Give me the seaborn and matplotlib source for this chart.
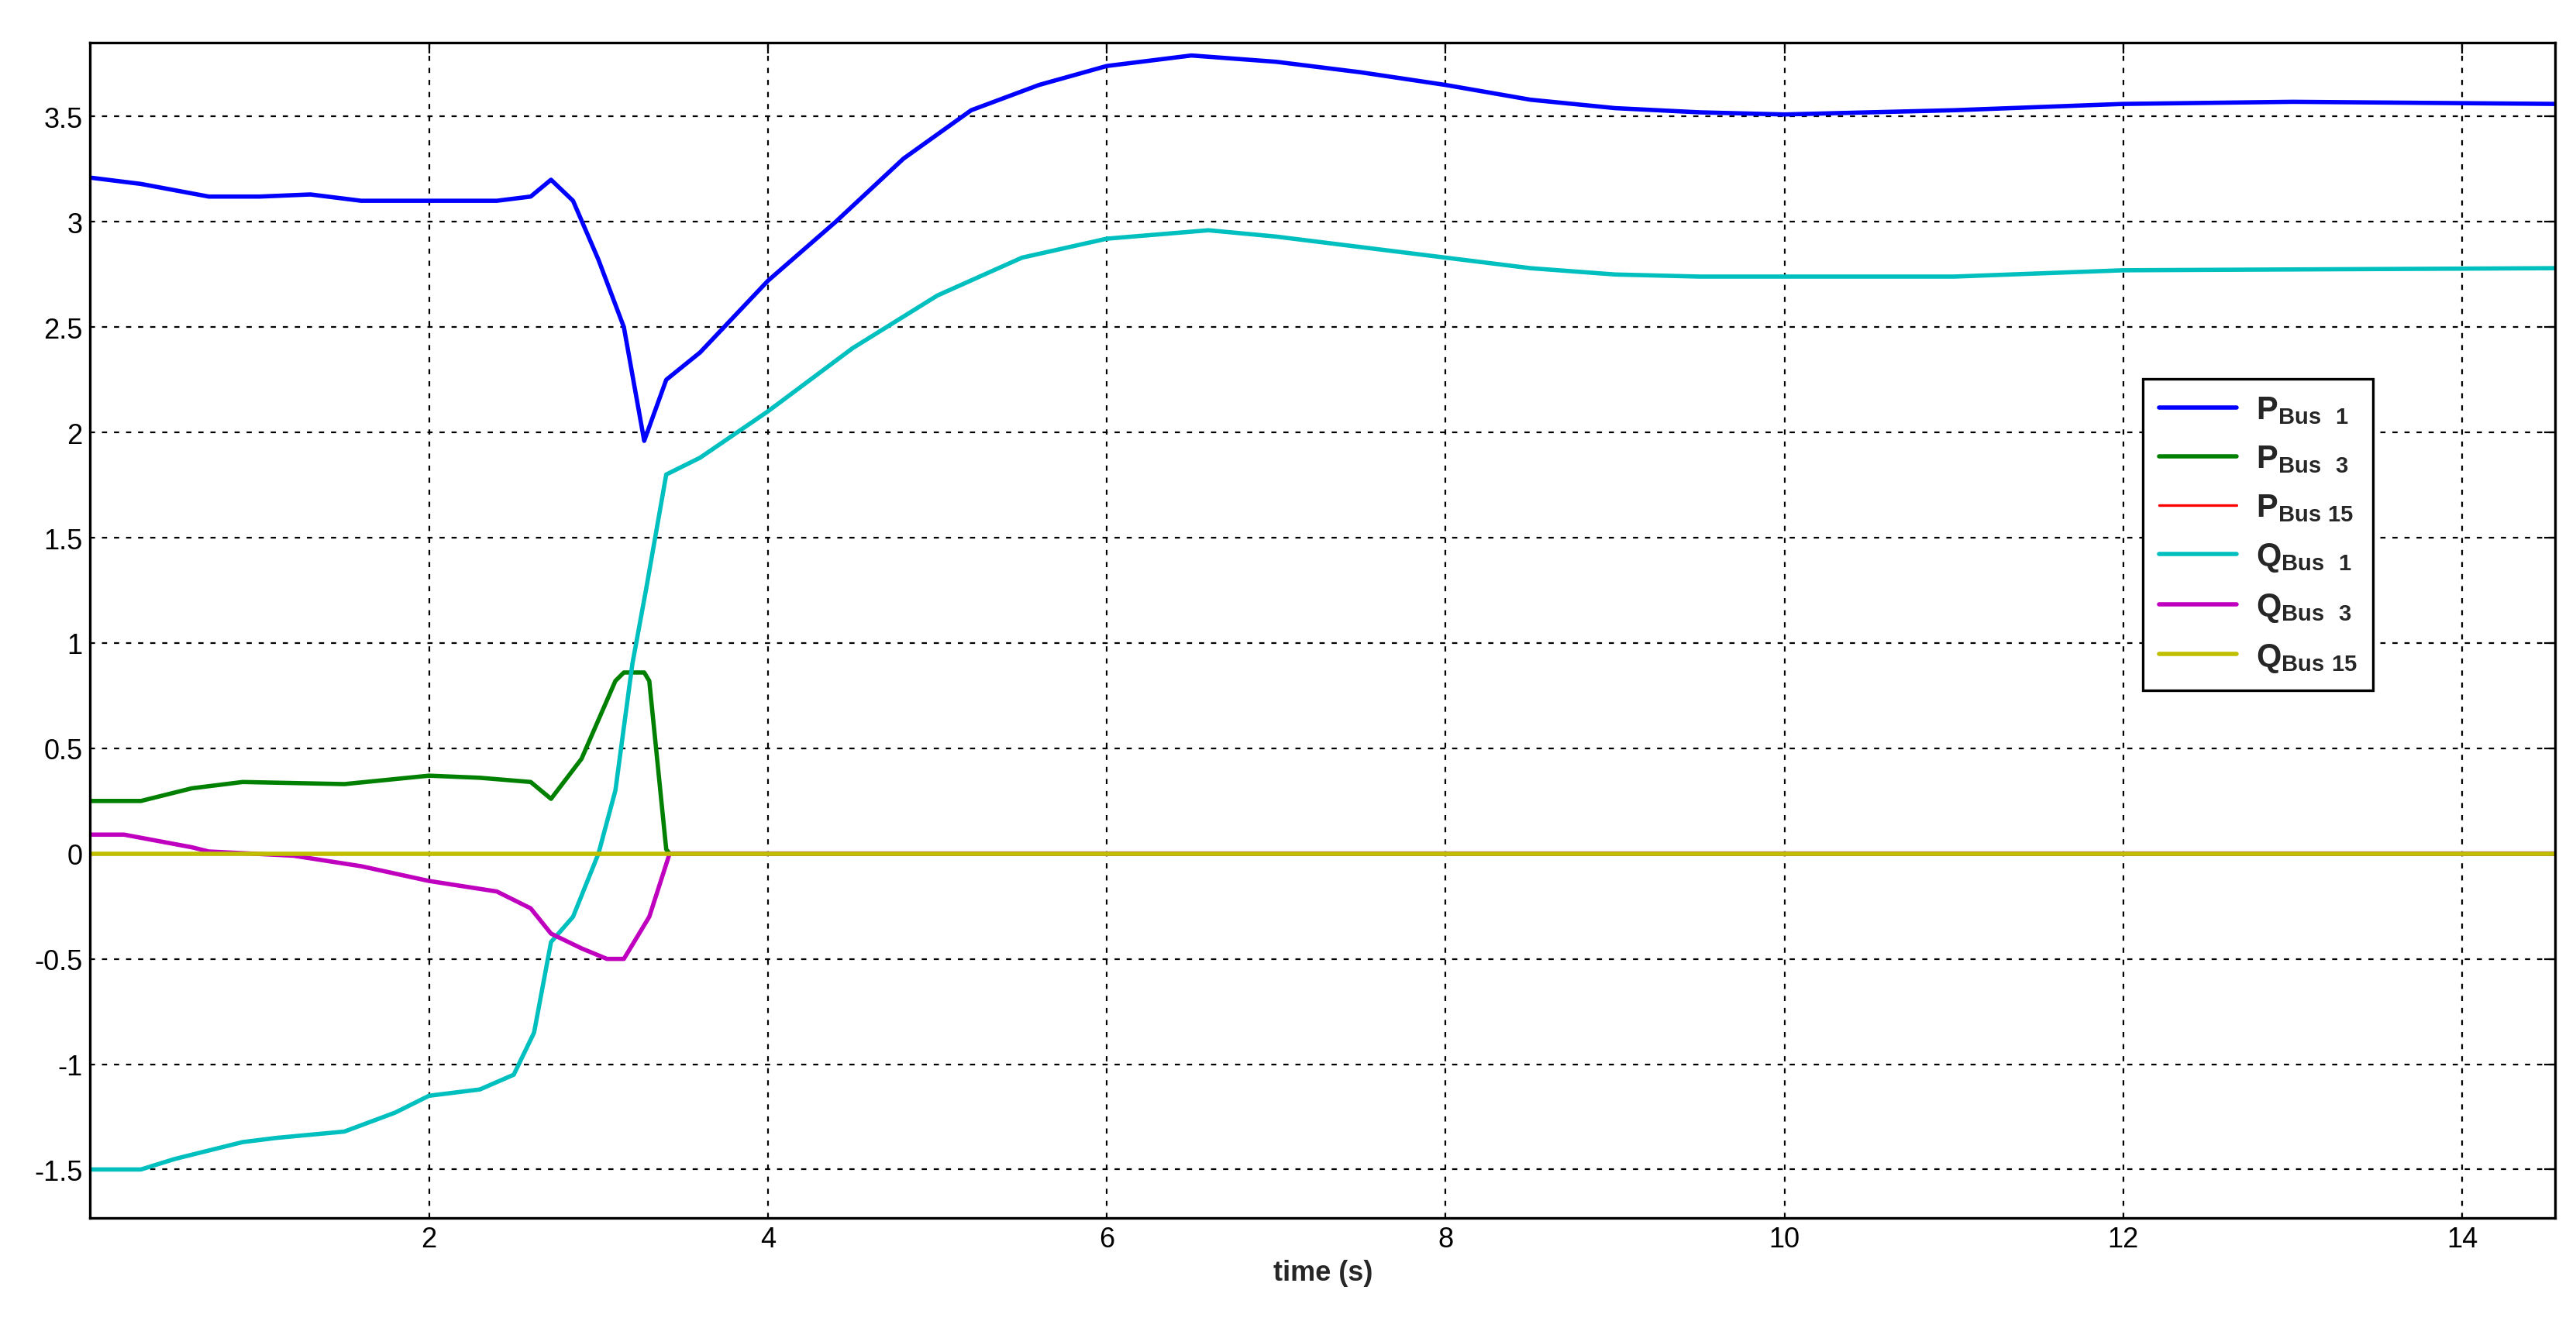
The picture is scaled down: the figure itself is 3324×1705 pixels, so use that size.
import numpy as np
import pandas as pd
import matplotlib
matplotlib.use("Agg")
import matplotlib.pyplot as plt
import seaborn as sns

sns.set_style("white")
plt.rcParams['font.family'] = ['Liberation Sans', 'DejaVu Sans']
plt.rcParams['mathtext.fontset'] = 'custom'
plt.rcParams['mathtext.rm'] = 'Liberation Sans'
plt.rcParams['mathtext.bf'] = 'Liberation Sans:bold'

T_END = 14.55
t_p1 = [0, 0.3, 0.7, 1.0, 1.3, 1.6, 2.0, 2.4, 2.6, 2.72, 2.85, 3.0, 3.15, 3.27, 3.4, 3.6, 3.8, 4.0, 4.4, 4.8, 5.2, 5.6, 6.0, 6.5, 7.0, 7.5, 8.0, 8.5, 9.0, 9.5, 10, 11, 12, 13, T_END]
p_bus1 = [3.21, 3.18, 3.12, 3.12, 3.13, 3.10, 3.10, 3.10, 3.12, 3.20, 3.10, 2.82, 2.5, 1.96, 2.25, 2.38, 2.55, 2.72, 3.0, 3.3, 3.53, 3.65, 3.74, 3.79, 3.76, 3.71, 3.65, 3.58, 3.54, 3.52, 3.51, 3.53, 3.56, 3.57, 3.56]

t_q1 = [0, 0.3, 0.5, 0.9, 1.1, 1.5, 1.8, 2.0, 2.3, 2.5, 2.62, 2.72, 2.85, 3.0, 3.1, 3.2, 3.28, 3.4, 3.6, 4.0, 4.5, 5.0, 5.5, 6.0, 6.6, 7.0, 7.5, 8.0, 8.5, 9.0, 9.5, 10, 11, 12, T_END]
q_bus1 = [-1.5, -1.5, -1.45, -1.37, -1.35, -1.32, -1.23, -1.15, -1.12, -1.05, -0.85, -0.42, -0.3, 0.0, 0.3, 0.9, 1.25, 1.8, 1.88, 2.1, 2.4, 2.65, 2.83, 2.92, 2.96, 2.93, 2.88, 2.83, 2.78, 2.75, 2.74, 2.74, 2.74, 2.77, 2.78]

t_p3 = [0, 0.3, 0.6, 0.9, 1.5, 2.0, 2.3, 2.6, 2.72, 2.9, 3.1, 3.15, 3.27, 3.3, 3.4, 3.42, T_END]
p_bus3 = [0.25, 0.25, 0.31, 0.34, 0.33, 0.37, 0.36, 0.34, 0.26, 0.45, 0.82, 0.86, 0.86, 0.82, 0.02, 0.0, 0.0]

t_q3 = [0, 0.2, 0.6, 0.7, 1.2, 1.6, 2.0, 2.4, 2.6, 2.72, 2.9, 3.05, 3.15, 3.3, 3.42, T_END]
q_bus3 = [0.09, 0.09, 0.03, 0.01, -0.01, -0.06, -0.13, -0.18, -0.26, -0.38, -0.45, -0.5, -0.5, -0.3, 0.0, 0.0]

t_flat = [0, T_END]
p_bus15 = [0, 0]
q_bus15 = [0, 0]

fig = plt.figure(figsize=(16.62, 8.53), dpi=200)
ax = fig.add_axes([0.035, 0.078, 0.957, 0.889])

series = [
    (t_p1, p_bus1, '#0000ff', 2.0, r'$\mathbf{P_{Bus\ \ 1}}$'),
    (t_p3, p_bus3, '#008000', 2.0, r'$\mathbf{P_{Bus\ \ 3}}$'),
    (t_flat, p_bus15, '#ff0000', 1.2, r'$\mathbf{P_{Bus\ 15}}$'),
    (t_q1, q_bus1, '#00bfbf', 2.0, r'$\mathbf{Q_{Bus\ \ 1}}$'),
    (t_q3, q_bus3, '#bf00bf', 2.0, r'$\mathbf{Q_{Bus\ \ 3}}$'),
    (t_flat, q_bus15, '#bfbf00', 2.0, r'$\mathbf{Q_{Bus\ 15}}$'),
]
for t, v, c, lw, lab in series:
    sns.lineplot(x=t, y=v, ax=ax, color=c, linewidth=lw, label=lab, sort=False, estimator=None)

ax.set_xlim(0, T_END)
ax.set_ylim(-1.73, 3.85)
ax.set_xticks([2, 4, 6, 8, 10, 12, 14])
ax.set_yticks([-1.5, -1, -0.5, 0, 0.5, 1, 1.5, 2, 2.5, 3, 3.5])
ax.set_yticklabels(['-1.5', '-1', '-0.5', '0', '0.5', '1', '1.5', '2', '2.5', '3', '3.5'])
ax.grid(True, color='black', linestyle=(0, (3, 4)), linewidth=0.8)
ax.tick_params(axis='both', direction='in', length=5, labelsize=13, colors='black', top=True, right=True)
for s in ax.spines.values():
    s.set_color('black'); s.set_linewidth(1.2)
ax.set_xlabel('time (s)', fontsize=13, fontweight='bold')
ax.xaxis.set_label_coords(0.5, -0.035)
leg = ax.legend(loc='upper left', bbox_to_anchor=(0.826, 0.728), fontsize=15, frameon=True,
                fancybox=False, edgecolor='black', framealpha=1, handlelength=2.4,
                labelspacing=0.55, borderpad=0.5, handletextpad=0.6)
leg.get_frame().set_linewidth(1.2)
fig.savefig('out.png', dpi=200, facecolor='white')
